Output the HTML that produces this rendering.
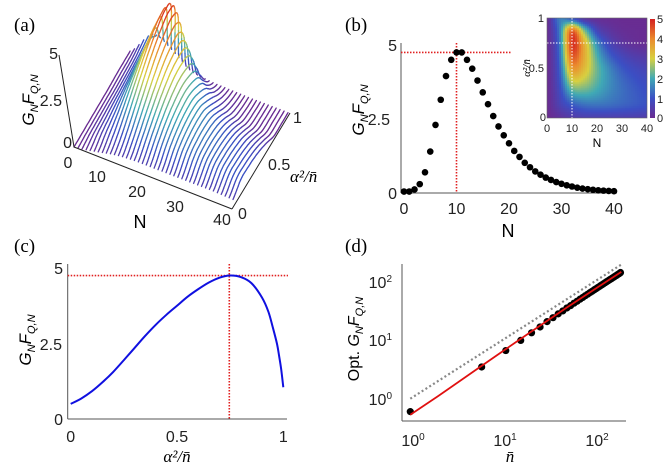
<!DOCTYPE html>
<html><head><meta charset="utf-8">
<style>
html,body{margin:0;padding:0;background:#fff;}
svg{display:block;font-family:"Liberation Sans",sans-serif;}
.pl{font-family:"Liberation Serif",serif;font-size:19px;}
.tk{font-size:16px;fill:#222;}
.ti{font-size:11px;fill:#222;}
</style></head>
<body>
<svg id="fig" width="664" height="464" viewBox="0 0 664 464" xmlns="http://www.w3.org/2000/svg">
<defs>
<linearGradient id="cbar" x1="0" y1="1" x2="0" y2="0">
<stop offset="0" stop-color="#6a2c91"/><stop offset="0.2" stop-color="#3b4fc4"/><stop offset="0.4" stop-color="#3fa9b5"/><stop offset="0.6" stop-color="#d8d040"/><stop offset="0.8" stop-color="#eb8a2d"/><stop offset="1" stop-color="#d42020"/>
</linearGradient>
<clipPath id="inclip"><rect x="547" y="18" width="100" height="100"/></clipPath>
</defs>

<text class="pl" x="14" y="31">(a)</text>
<text class="pl" x="345" y="31">(b)</text>
<text class="pl" x="14" y="252">(c)</text>
<text class="pl" x="345" y="252">(d)</text>

<!-- ===== panel a ===== -->
<g id="pa">
<g id="pa-curves"></g>
<line x1="59" y1="55" x2="74" y2="147" stroke="#222" stroke-width="1"/>
<line x1="74" y1="147" x2="232" y2="209" stroke="#222" stroke-width="1"/>
<line x1="232" y1="209" x2="290" y2="113" stroke="#222" stroke-width="1"/>
<text class="tk" x="58" y="59" text-anchor="end">5</text>
<text class="tk" x="62" y="106" text-anchor="end">2.5</text>
<text class="tk" x="72" y="148" text-anchor="end">0</text>
<text class="tk" x="68" y="168" text-anchor="middle">0</text>
<text class="tk" x="97" y="182" text-anchor="middle">10</text>
<text class="tk" x="137" y="197" text-anchor="middle">20</text>
<text class="tk" x="175" y="212" text-anchor="middle">30</text>
<text class="tk" x="222" y="225" text-anchor="middle">40</text>
<text class="tk" x="238" y="219">0</text>
<text class="tk" x="268" y="170">0.5</text>
<text class="tk" x="293" y="123">1</text>
<text x="140" y="228" font-size="18" text-anchor="middle">N</text>
<text x="290" y="182" font-size="17" font-family="Liberation Serif, serif" font-style="italic">α²/n̄</text>
<text transform="translate(34,100) rotate(-90)" font-size="17" text-anchor="middle"><tspan font-style="italic">G</tspan><tspan font-size="11" dy="4" font-style="italic">N</tspan><tspan dy="-4" font-style="italic">F</tspan><tspan font-size="11" dy="4" font-style="italic">Q,N</tspan></text>
</g>

<!-- ===== panel b ===== -->
<g id="pb">
<line x1="401" y1="43" x2="401" y2="193" stroke="#555"/>
<line x1="401" y1="193" x2="617" y2="193" stroke="#555"/>
<g id="pb-ref"></g>
<g id="pb-dots"></g>
<text class="tk" x="397" y="51" text-anchor="end">5</text>
<text class="tk" x="390" y="125" text-anchor="end">2.5</text>
<text class="tk" x="397" y="199" text-anchor="end">0</text>
<g id="pb-xt"></g>
<text x="508" y="237" font-size="18" text-anchor="middle">N</text>
<text transform="translate(364,110) rotate(-90)" font-size="17" text-anchor="middle"><tspan font-style="italic">G</tspan><tspan font-size="11" dy="4" font-style="italic">N</tspan><tspan dy="-4" font-style="italic">F</tspan><tspan font-size="11" dy="4" font-style="italic">Q,N</tspan></text>
<g id="inset">
<g id="heat" clip-path="url(#inclip)"></g>
<line x1="572" y1="18" x2="572" y2="118" stroke="#fff" stroke-dasharray="1.5,1.5"/>
<line x1="547" y1="43" x2="647" y2="43" stroke="#fff" stroke-dasharray="1.5,1.5"/>
<rect x="547" y="18" width="100" height="100" fill="none" stroke="#666" stroke-width="0.6"/>
<rect x="650" y="19" width="5" height="99" fill="url(#cbar)"/>
<text class="ti" x="657" y="23">5</text>
<text class="ti" x="657" y="43">4</text>
<text class="ti" x="657" y="63">3</text>
<text class="ti" x="657" y="83">2</text>
<text class="ti" x="657" y="103">1</text>
<text class="ti" x="657" y="122">0</text>
<text class="ti" x="544" y="22" text-anchor="end">1</text>
<text class="ti" x="544" y="72" text-anchor="end">0.5</text>
<text class="ti" x="546" y="121" text-anchor="end">0</text>
<g id="in-xt"></g>
<text x="597" y="147" font-size="12" text-anchor="middle">N</text>
<text transform="translate(530,68) rotate(-90)" font-size="11" font-family="Liberation Serif, serif" font-style="italic" text-anchor="middle">α²/n̄</text>
</g>
</g>

<!-- ===== panel c ===== -->
<g id="pc">
<line x1="67.7" y1="264" x2="67.7" y2="419" stroke="#555"/>
<line x1="67.7" y1="419" x2="287" y2="419" stroke="#555"/>
<g id="pc-ref"></g>
<path id="pc-line" fill="none" stroke="#1010e0" stroke-width="2"/>
<text class="tk" x="63" y="274" text-anchor="end">5</text>
<text class="tk" x="62" y="350" text-anchor="end">2.5</text>
<text class="tk" x="63" y="425" text-anchor="end">0</text>
<text class="tk" x="70.7" y="442" text-anchor="middle">0</text>
<text class="tk" x="177" y="442" text-anchor="middle">0.5</text>
<text class="tk" x="283.3" y="442" text-anchor="middle">1</text>
<text x="177" y="462" font-size="17" font-family="Liberation Serif, serif" font-style="italic" text-anchor="middle">α²/n̄</text>
<text transform="translate(31,340) rotate(-90)" font-size="17" text-anchor="middle"><tspan font-style="italic">G</tspan><tspan font-size="11" dy="4" font-style="italic">N</tspan><tspan dy="-4" font-style="italic">F</tspan><tspan font-size="11" dy="4" font-style="italic">Q,N</tspan></text>
</g>

<!-- ===== panel d ===== -->
<g id="pd">
<line x1="402" y1="264" x2="402" y2="421" stroke="#555"/>
<line x1="402" y1="421" x2="626" y2="421" stroke="#555"/>
<path id="pd-gray" fill="none" stroke="#888" stroke-width="2.2" stroke-dasharray="2,2.5"/>
<g id="pd-dots"></g>
<path id="pd-red" fill="none" stroke="#e01010" stroke-width="1.8"/>
<text class="tk" x="392" y="288" text-anchor="end">10<tspan font-size="10" dy="-6">2</tspan></text>
<text class="tk" x="392" y="346" text-anchor="end">10<tspan font-size="10" dy="-6">1</tspan></text>
<text class="tk" x="392" y="405" text-anchor="end">10<tspan font-size="10" dy="-6">0</tspan></text>
<text class="tk" x="413" y="446" text-anchor="middle">10<tspan font-size="10" dy="-6">0</tspan></text>
<text class="tk" x="505" y="446" text-anchor="middle">10<tspan font-size="10" dy="-6">1</tspan></text>
<text class="tk" x="597" y="446" text-anchor="middle">10<tspan font-size="10" dy="-6">2</tspan></text>
<text x="510" y="462" font-size="17" font-family="Liberation Serif, serif" font-style="italic" text-anchor="middle">n̄</text>
<text transform="translate(359,339) rotate(-90)" font-size="16" text-anchor="middle">Opt. <tspan font-style="italic">G</tspan><tspan font-size="11" dy="4" font-style="italic">N</tspan><tspan dy="-4" font-style="italic">F</tspan><tspan font-size="11" dy="4" font-style="italic">Q,N</tspan></text>
</g>
</svg>

<script>
// ---- data ----
const bN = [0,1,2,3,4,5,6,7,8,9,10,11,12,13,14,15,16,17,18,19,20,21,22,23,24,25,26,27,28,29,30,31,32,33,34,35,36,37,38,39,40];
const bVals = [0.05,0.05,0.12,0.3,0.7,1.4,2.3,3.15,3.95,4.5,4.75,4.75,4.5,4.2,3.8,3.4,3.0,2.6,2.25,1.95,1.68,1.42,1.22,1.02,0.87,0.73,0.62,0.52,0.44,0.37,0.31,0.26,0.22,0.18,0.15,0.13,0.11,0.09,0.08,0.07,0.06];
const bOptN = 10;
const bOptVal = 4.75;
const bXTicks = [0,10,20,30,40];

const cA = [0,0.05,0.1,0.15,0.2,0.25,0.3,0.35,0.4,0.45,0.5,0.55,0.6,0.65,0.7,0.75,0.8,0.85,0.9,0.93,0.95,0.97,0.98,0.99,1.0];
const cVals = [0.5,0.68,0.92,1.22,1.56,1.95,2.35,2.75,3.12,3.45,3.75,4.05,4.3,4.52,4.68,4.75,4.7,4.5,4.02,3.55,3.05,2.5,2.1,1.65,1.05];
const cOptA = 0.746;

const dN = [1,6,11,16,21,26,31,36,41,46,51,56,61,66,71,76,81,86,91,96,101,106,111,116,121,126,131,136,141,146,151,156,161,166,171,176,181,186,191,196];
const dVals = [0.6,3.5,6.7,10,13.5,17,21,24.5,28.5,32,36,39.5,43.5,47,51,54.5,58.5,62,66,69.5,73.5,77,81,84.5,88.5,92,96,99.5,103.5,107,111,114.5,118.5,122,126,129.5,133.5,137,141,146];
const dFitN = [1,2,5,10,20,50,100,200];
const dFitVals = [0.53,1.1,3.0,6.4,13.5,36,73.5,150];
const dRefN = [1,200];
const dRefVals = [1,200];

const gA = [0,0.125,0.25,0.375,0.5,0.625,0.75,0.875,1];
const gN = [0,5,10,15,20,25,30,35,40];
const gZ = [
 [0,0.2,0.45,0.55,0.55,0.55,0.55,0.55,0.5],
 [0,0.6,1.05,1.3,1.35,1.3,1.2,1.1,1.0],
 [0,0.8,1.95,2.1,1.9,1.6,1.35,1.15,1.0],
 [0,1.0,2.9,2.8,2.2,1.7,1.3,1.05,0.9],
 [0,1.15,3.75,3.3,2.3,1.6,1.1,0.85,0.7],
 [0,1.3,4.4,3.5,2.1,1.2,0.75,0.5,0.4],
 [0.05,1.4,4.75,3.4,1.68,0.73,0.31,0.13,0.06],
 [0.05,1.5,4.3,2.4,0.8,0.3,0.1,0.05,0.03],
 [0.05,1.5,1.05,0.3,0.1,0.05,0.02,0.02,0.02]
];

// ---- helpers ----
const NS = 'http://www.w3.org/2000/svg';
function mk(tag, parent){ const e=document.createElementNS(NS,tag); parent.appendChild(e); return e; }
const stops=[[0,[106,44,145]],[0.2,[59,79,196]],[0.4,[63,169,181]],[0.6,[216,208,64]],[0.8,[235,138,45]],[1,[212,32,32]]];
function cmap(v){ let t=Math.max(0,Math.min(1,v/5)); for(let i=1;i<stops.length;i++){ if(t<=stops[i][0]){ const a=stops[i-1],b=stops[i]; const f=(t-a[0])/(b[0]-a[0]); const c=a[1].map((x,k)=>Math.round(x+(b[1][k]-x)*f)); return 'rgb('+c.join(',')+')'; } } return 'rgb(212,32,32)'; }
function cubic1(vals, pos){
  const n=vals.length; let i=Math.min(n-2,Math.max(0,Math.floor(pos))); const t=pos-i;
  const p0=vals[Math.max(0,i-1)],p1=vals[i],p2=vals[i+1],p3=vals[Math.min(n-1,i+2)];
  const v=0.5*((2*p1)+(-p0+p2)*t+(2*p0-5*p1+4*p2-p3)*t*t+(-p0+3*p1-3*p2+p3)*t*t*t);
  return Math.max(0,v); }
function surf(N,a){ const jn=N/(gN[1]-gN[0]); const ia=a/(gA[1]-gA[0]);
  const col=gZ.map(row=>cubic1(row,jn)); return cubic1(col,ia); }

// ---- panel a ----
function P3(N,a,z){ return [74+3.95*N+56*a+2*z, 147+1.525*N-95*a-17*z]; }
const pa=document.getElementById('pa-curves');
for(let N=0; N<=40; N++){
  const g=mk('g',pa);
  
  
  const steps=50;
  let prev=null, pz=0;
  for(let s=0;s<=steps;s++){
    const a=s/steps; const z=surf(N,a); const p=P3(N,a,z);
    if(prev){ const l=mk('line',g);
      l.setAttribute('x1',prev[0].toFixed(1)); l.setAttribute('y1',prev[1].toFixed(1));
      l.setAttribute('x2',p[0].toFixed(1)); l.setAttribute('y2',p[1].toFixed(1));
      l.setAttribute('stroke',cmap((z+pz)/2)); l.setAttribute('stroke-width','1.3'); l.setAttribute('stroke-linecap','round'); }
    prev=p; pz=z;
  }
}

// ---- panel b ----
const xb=N=>404+N*5.25, yb=v=>193-v*29.6;
const pbr=document.getElementById('pb-ref');
let l1=mk('line',pbr); l1.setAttribute('x1',xb(bOptN)); l1.setAttribute('x2',xb(bOptN)); l1.setAttribute('y1',43); l1.setAttribute('y2',193);
l1.setAttribute('stroke','#e02020'); l1.setAttribute('stroke-dasharray','1.5,1.5'); l1.setAttribute('stroke-width','1.6');


let l2=mk('line',pbr); l2.setAttribute('x1',401); l2.setAttribute('x2',xb(20.5)); l2.setAttribute('y1',yb(bOptVal)); l2.setAttribute('y2',yb(bOptVal));
l2.setAttribute('stroke','#e02020'); l2.setAttribute('stroke-dasharray','1.5,1.5'); l2.setAttribute('stroke-width','1.6');


const pbd=document.getElementById('pb-dots');
bN.forEach((n,i)=>{ const c=mk('circle',pbd); c.setAttribute('cx',xb(n)); c.setAttribute('cy',yb(bVals[i])); c.setAttribute('r',3.3); c.setAttribute('fill','#000');
  
   });
const pbx=document.getElementById('pb-xt');
bXTicks.forEach(t=>{ const e=mk('text',pbx); e.setAttribute('x',xb(t)); e.setAttribute('y',214); e.setAttribute('text-anchor','middle'); e.setAttribute('class','tk'); e.textContent=t;
  
   });

const xi=N=>547+N*2.5, yi=a=>118-a*100;
const heat=document.getElementById('heat');
const HN=50, HA=50;
for(let r=0;r<HA;r++){ for(let c=0;c<HN;c++){
  const N=(c+0.5)*40/HN, a=(r+0.5)/HA;
  const e=mk('rect',heat); e.setAttribute('x',(xi(c*40/HN)).toFixed(2)); e.setAttribute('y',(yi((r+1)/HA)).toFixed(2));
  e.setAttribute('width',2.3); e.setAttribute('height',2.3); e.setAttribute('fill',cmap(surf(N,a)));
  
  
}}
const inx=document.getElementById('in-xt');
bXTicks.forEach(t=>{ const e=mk('text',inx); e.setAttribute('x',xi(t)); e.setAttribute('y',132); e.setAttribute('text-anchor','middle'); e.setAttribute('class','ti'); e.textContent=t;
  
   });

// ---- panel c ----
const xc=a=>70.7+a*212.6, yc=v=>419-v*30.2;
let pts=cA.map((a,i)=>[xc(a),yc(cVals[i])]);
let d='M'+pts[0][0]+','+pts[0][1];
for(let i=0;i<pts.length-1;i++){ const p0=pts[Math.max(0,i-1)],p1=pts[i],p2=pts[i+1],p3=pts[Math.min(pts.length-1,i+2)];
  d+=' C'+(p1[0]+(p2[0]-p0[0])/6).toFixed(2)+','+(p1[1]+(p2[1]-p0[1])/6).toFixed(2)+' '+(p2[0]-(p3[0]-p1[0])/6).toFixed(2)+','+(p2[1]-(p3[1]-p1[1])/6).toFixed(2)+' '+p2[0].toFixed(2)+','+p2[1].toFixed(2); }
document.getElementById('pc-line').setAttribute('d',d);
const pcr=document.getElementById('pc-ref');
let l3=mk('line',pcr); l3.setAttribute('x1',67.7); l3.setAttribute('x2',288); l3.setAttribute('y1',yc(bOptVal)); l3.setAttribute('y2',yc(bOptVal));
l3.setAttribute('stroke','#e02020'); l3.setAttribute('stroke-dasharray','1.5,1.5'); l3.setAttribute('stroke-width','1.6');


let l4=mk('line',pcr); l4.setAttribute('x1',xc(cOptA)); l4.setAttribute('x2',xc(cOptA)); l4.setAttribute('y1',264); l4.setAttribute('y2',419);
l4.setAttribute('stroke','#e02020'); l4.setAttribute('stroke-dasharray','1.5,1.5'); l4.setAttribute('stroke-width','1.6');



// ---- panel d ----
const xd=n=>410.3+Math.log10(n)*91.7, yd=v=>398.7-Math.log10(v)*58.3;
document.getElementById('pd-gray').setAttribute('d','M'+dRefN.map((n,i)=>xd(n).toFixed(2)+','+yd(dRefVals[i]).toFixed(2)).join(' L'));
const pdd=document.getElementById('pd-dots');
dN.forEach((n,i)=>{ const c=mk('circle',pdd); c.setAttribute('cx',xd(n)); c.setAttribute('cy',yd(dVals[i])); c.setAttribute('r',3.6); c.setAttribute('fill','#000');
  
   });
let fp=[]; for(let i=0;i<dFitN.length;i++) fp.push(xd(dFitN[i]).toFixed(2)+','+yd(dFitVals[i]).toFixed(2));
document.getElementById('pd-red').setAttribute('d','M'+fp.join(' L'));
</script>
</body></html>
